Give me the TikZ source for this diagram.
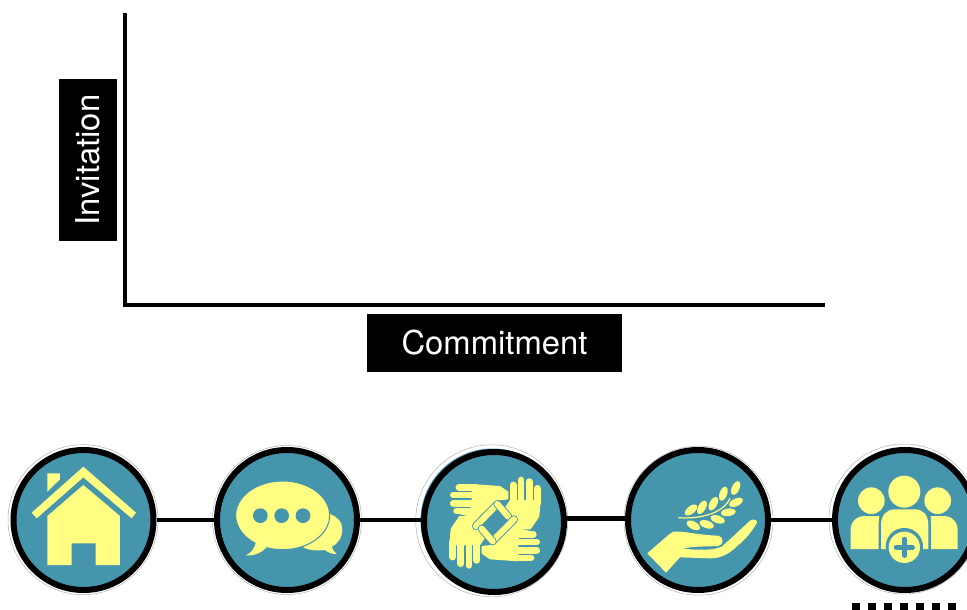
\documentclass[tikz,border=0pt]{standalone}
\usepackage{fontspec}
\setmainfont{TeX Gyre Heros}
\definecolor{discteal}{HTML}{4595AD}
\definecolor{iconyellow}{HTML}{FFFD82}

\begin{document}
\begin{tikzpicture}[
	x=1pt, y=-1pt,
	labelbox/.style={fill=black, text=white, inner sep=0, font=\fontsize{32.8}{36}\selectfont, align=center},
	disc/.style={circle, draw=black, fill=discteal, line width=6, minimum size=140, inner sep=0},
	halo/.style={draw=black!30, line width=0.5},
	link/.style={draw=black, line width=4.5},
	axis/.style={draw=black, line width=3.8},
	icon/.style={fill=iconyellow},
	cutout/.style={fill=discteal},
	finger/.style={draw=iconyellow, line width=6.8, line cap=round},
	thumbedge/.style={draw=discteal, line width=8, line cap=round},
	thumb/.style={draw=iconyellow, line width=6.2, line cap=round}
]
\useasboundingbox (0,0) rectangle (967,610);
\clip (0,0) rectangle (967,610);

\coordinate (axistop) at (125,13);
\coordinate (axiscorner) at (125,305);
\coordinate (axisright) at (825,305);
\draw[axis] (axistop) -- (axiscorner) -- (axisright);

\node[labelbox, minimum width=162, minimum height=58, rotate=90] (invitation) at (88,160) {Invitation};
\node[labelbox, minimum width=255, minimum height=58] (commitment) at (494.5,343) {Commitment};

\draw[halo] (83,519.7) circle (75);
\draw[halo] (287,520) circle (74.5);
\draw[halo] (491.7,520.8) circle (76);
\draw[halo] (698.5,520.7) circle (74.5);
\draw[halo] (904,519) circle (75);
\fill[cutout] (492.5,520.5) circle (72);

\node[disc] (home) at (83.5,520) {};
\node[disc] (talk) at (287,520) {};
\node[disc] (hands) at (494,522) {};
\node[disc] (gift) at (698,520) {};
\node[disc] (people) at (905,520) {};

\draw[link] (home.east) -- (talk.west);
\draw[link] (talk.east) -- ([yshift=2]hands.west);
\draw[link] ([yshift=3.5]hands.east) -- ([yshift=1.5]gift.west);
\draw[link] (gift.east) -- (people.west);

\coordinate (dashleft) at (852,607);
\coordinate (dashright) at (956,607);
\draw[black, line width=8, dash pattern=on 8pt off 8pt] (dashleft) -- (dashright);

\begin{scope}[shift={(0,430)}, scale=1/3]
	\fill[icon] (142,130) -- (180,130) -- (180,148) -- (142,185) -- cycle;
	\fill[icon] (250,110) -- (408,248) -- (395,265) -- (250,142) -- (110,265) -- (95,248) -- cycle;
	\fill[icon] (250,165) -- (360,258) -- (360,405) -- (287,405) -- (287,340) -- (215,340) -- (215,405) -- (142,405) -- (142,258) -- cycle;

	\fill[icon] (985,250) .. controls (1015,260) and (1028,280) .. (1027,300) .. controls (1026,325) and (1010,345) .. (995,350)
		.. controls (997,358) and (1003,367) .. (1010,372) .. controls (995,372) and (985,368) .. (975,360)
		.. controls (950,363) and (925,360) .. (910,353) -- cycle;
	\filldraw[icon, draw=discteal, line width=1] (848,256) ellipse [x radius=141, y radius=103];
	\fill[icon] (768,335) .. controls (765,355) and (752,370) .. (737,376) .. controls (765,378) and (785,368) .. (800,352) -- cycle;
	\foreach \dotx in {781,845,909}
		\fill[cutout] (\dotx,257) circle (22);
\end{scope}

\begin{scope}[shift={(440,470)}, scale=1/3]
	\foreach \turn in {0,180} {
		\begin{scope}[shift={(165,158)}, rotate=\turn, shift={(-165,-158)}]
			\foreach \fingerx/\fingertip in {220/45, 243/30, 268/35, 292/55}
				\draw[finger] (\fingerx,100) -- (\fingerx,\fingertip);
			\fill[icon] (210,90) -- (302,90) -- (298,140) -- (272,178) -- (205,178) -- (225,150) -- (195,112) -- cycle;
			\foreach \fingery/\fingertip in {52/57, 75/40, 100/40, 123/50}
				\draw[finger] (105,\fingery) -- (\fingertip,\fingery);
			\fill[icon] (95,42) -- (180,48) -- (205,65) -- (205,88) -- (170,92) -- (112,145) -- (60,133) -- (95,110) -- cycle;
		\end{scope}
	}
	\foreach \turn in {0,180} {
		\begin{scope}[shift={(165,158)}, rotate=\turn, shift={(-165,-158)}]
			\draw[thumbedge] (108,168) -- (170,105);
			\draw[thumb] (108,168) -- (170,105);
			\draw[thumbedge] (172,102) -- (205,140);
			\draw[thumb] (172,102) -- (205,140);
		\end{scope}
	}
\end{scope}

\begin{scope}[shift={(640,470)}, scale=1/3]
	\fill[icon] (22,250) -- (85,195) -- (100,185) .. controls (130,182) and (170,195) .. (235,197) .. controls (252,200) and (252,225) .. (235,228)
		.. controls (200,230) and (160,228) .. (128,236) .. controls (170,240) and (220,242) .. (245,230)
		.. controls (255,222) and (300,180) .. (330,152) .. controls (340,145) and (356,150) .. (350,160)
		.. controls (335,185) and (315,210) .. (295,225) .. controls (265,255) and (240,265) .. (210,265)
		-- (120,262) -- (78,308) -- cycle;
	\draw[iconyellow, line width=1.2] (115,143) .. controls (180,148) and (250,130) .. (270,85);
	\foreach \leafx/\leafy/\leafangle in {153/120/40, 186/112/60, 220/101/62, 250/71/70, 287/54/65, 288/97/25, 265/127/8, 233/148/-18, 200/163/-18, 160/166/-28}
		\fill[icon, shift={(\leafx,\leafy)}, rotate=\leafangle] (0,0) ellipse [x radius=22, y radius=11.5];
\end{scope}

\begin{scope}[shift={(770,430)}, scale=1/3]
	\fill[icon] (403,185) circle (48);
	\fill[icon] (304,212) circle (40);
	\fill[icon] (503,212) circle (40);
	\fill[icon] (242,357) -- (242,300) .. controls (242,275) and (260,258) .. (285,258) -- (328,258) .. controls (328,262) and (326,270) .. (326,280) -- (326,357) -- cycle;
	\fill[icon] (333,357) -- (333,285) .. controls (333,255) and (350,238) .. (375,238) -- (435,238) .. controls (460,238) and (475,255) .. (475,285) -- (475,357) -- cycle;
	\fill[icon] (563,357) -- (563,300) .. controls (563,275) and (545,258) .. (520,258) -- (482,258) .. controls (482,262) and (483,270) .. (483,280) -- (483,357) -- cycle;
	\fill[cutout] (403,350) circle (56);
	\fill[icon] (403,352) circle (47);
	\draw[discteal, line width=4.5, line cap=round] (378,352) -- (428,352);
	\draw[discteal, line width=4.5, line cap=round] (403,327) -- (403,377);
\end{scope}
\end{tikzpicture}
\end{document}
